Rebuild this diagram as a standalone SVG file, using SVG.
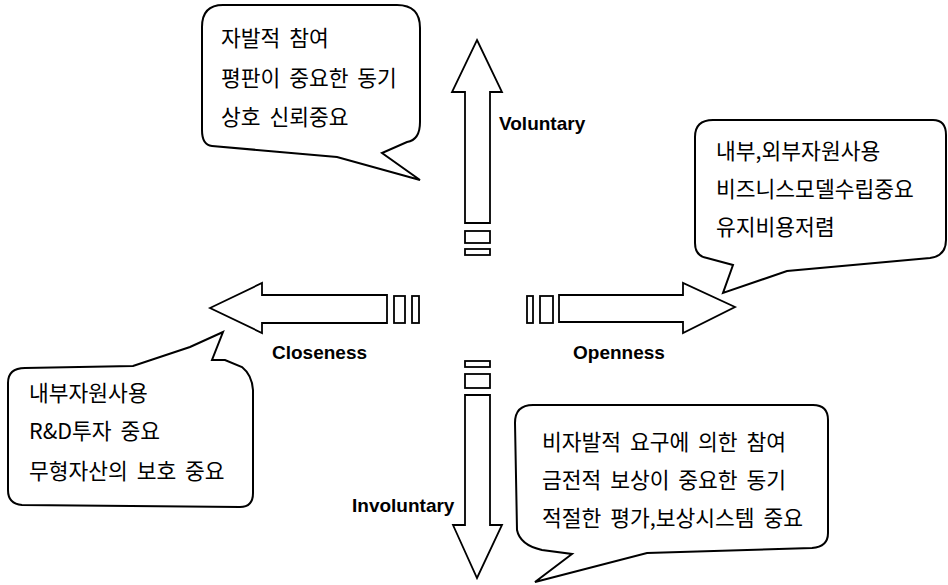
<svg xmlns="http://www.w3.org/2000/svg" width="948" height="585" viewBox="0 0 948 585">
<style>
.bubble{fill:#fff;stroke:#000;stroke-width:2;stroke-linejoin:miter}
.arrow{fill:#fff;stroke:#000;stroke-width:1.8}
.kr{font-family:"Noto Sans CJK KR","Noto Sans",sans-serif;font-size:21.5px;fill:#000;word-spacing:4px}
.lbl{font-family:"Liberation Sans",Arial,sans-serif;font-weight:bold;font-size:19px;fill:#000}
</style>
<rect width="948" height="585" fill="#fff"/>
<g id="connectors">
  <g id="arrow-up">
    <path class="arrow" d="M477,40 L502,92 L490,92 L490,223 L465,223 L465,92 L452,92 Z"/>
    <rect class="arrow" x="465" y="231" width="25" height="12"/>
    <rect class="arrow" x="465" y="249" width="25" height="6"/>
  </g>
  <g id="arrow-down">
    <rect class="arrow" x="465" y="361" width="25" height="6"/>
    <rect class="arrow" x="465" y="374" width="25" height="14"/>
    <path class="arrow" d="M465,395 L490,395 L490,525 L502,525 L477,578 L453,525 L465,525 Z"/>
  </g>
  <g id="arrow-left">
    <path class="arrow" d="M210,308 L262,283 L262,295 L387,295 L387,323 L262,323 L262,333 Z"/>
    <rect class="arrow" x="394" y="296" width="11" height="27"/>
    <rect class="arrow" x="412" y="296" width="7" height="27"/>
  </g>
  <g id="arrow-right">
    <rect class="arrow" x="527" y="296" width="6" height="27"/>
    <rect class="arrow" x="540" y="296" width="13" height="27"/>
    <path class="arrow" d="M559,295 L683,295 L683,283 L735,307 L683,333 L683,322 L559,322 Z"/>
  </g>
</g>
<g id="labels">
  <text class="lbl" x="499" y="130">Voluntary</text>
  <text class="lbl" x="272" y="359">Closeness</text>
  <text class="lbl" x="573" y="359">Openness</text>
  <text class="lbl" x="352" y="512">Involuntary</text>
</g>
<g id="bubble-voluntary">
  <path class="bubble" d="M223,5 L397,5 Q420,5 420,28 L420,122 Q420,140 407,142 L382,153 L420,180 L337,157 L212,146 Q202,145 202,130 L202,27 Q202,5 223,5 Z"/>
  <text class="kr" x="221" y="46">자발적 참여</text>
  <text class="kr" x="221" y="86">평판이 중요한 동기</text>
  <text class="kr" x="221" y="125">상호 신뢰중요</text>
</g>
<g id="bubble-openness">
  <path class="bubble" d="M713,120 L933,120 Q946,120 946,135 L946,240 Q946,256 930,258 L787,271 L723,293 L733,265 L707,258 Q695,256 695,243 L695,137 Q695,120 713,120 Z"/>
  <text class="kr" x="716" y="159">내부,외부자원사용</text>
  <text class="kr" x="716" y="197">비즈니스모델수립중요</text>
  <text class="kr" x="716" y="235">유지비용저렴</text>
</g>
<g id="bubble-closeness">
  <path class="bubble" d="M25,368 L133,366 L190,347 L223,332 L212,360 L225,360 L242,367 Q252,375 253,390 L253,493 Q253,507 240,507 L22,505 Q8,504 8,490 L8,383 Q8,368 25,368 Z"/>
  <text class="kr" x="29" y="401">내부자원사용</text>
  <text class="kr" x="29" y="439">R&amp;D투자 중요</text>
  <text class="kr" x="29" y="479">무형자산의 보호 중요</text>
</g>
<g id="bubble-involuntary">
  <path class="bubble" d="M533,405 L813,405 Q828,405 828,420 L828,533 Q828,547 812,548 L647,553 L535,582 L572,554 L542,550 Q520,545 517,530 L515,423 Q515,405 533,405 Z"/>
  <text class="kr" x="542" y="450">비자발적 요구에 의한 참여</text>
  <text class="kr" x="542" y="488">금전적 보상이 중요한 동기</text>
  <text class="kr" x="542" y="526">적절한 평가,보상시스템 중요</text>
</g>
</svg>
